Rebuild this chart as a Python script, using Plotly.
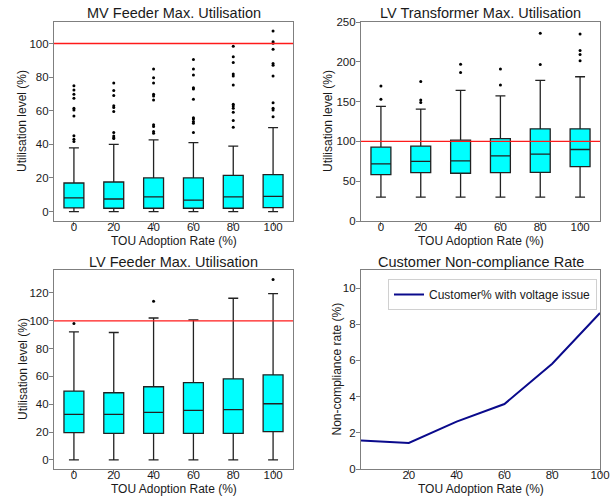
import plotly.graph_objects as go
from plotly.subplots import make_subplots

# ---------------- data ----------------
tou_rates = [0, 20, 40, 60, 80, 100]
tick_labels = ["0", "20", "40", "60", "80", "100"]

# MV feeder max utilisation (box statistics)
mv_q1 = [2.2, 2.0, 2.0, 2.0, 2.0, 2.4]
mv_median = [8.1, 7.5, 8.7, 6.8, 8.7, 9.0]
mv_q3 = [17.0, 17.6, 20.0, 20.0, 21.5, 22.0]
mv_low = [0, 0, 0, 0, 0, 0]
mv_high = [37.9, 40.0, 42.7, 41.0, 39.0, 50.0]
mv_outliers = [
    [74.9, 72.3, 69.8, 67.4, 61.5, 60.5, 56.9, 45.1, 43.1, 41.7],
    [76.5, 72.0, 69.0, 63.0, 62.0, 59.5, 47.0, 45.0, 44.0, 43.5],
    [84.8, 79.6, 76.5, 69.8, 68.8, 66.4, 51.6, 50.6, 47.6, 46.6],
    [90.5, 84.8, 81.2, 73.7, 72.9, 66.8, 55.9, 55.1, 53.6, 52.6, 47.0],
    [98.4, 92.1, 88.7, 81.8, 80.6, 75.3, 63.8, 62.8, 61.5, 59.1, 54.2, 50.2],
    [107.5, 101.0, 100.2, 96.6, 88.1, 87.0, 80.6, 64.8, 61.5, 60.5, 56.5],
]

# LV transformer max utilisation
tx_q1 = [58.3, 60.8, 60.0, 60.8, 61.2, 68.4]
tx_median = [71.7, 75.0, 75.5, 81.8, 83.9, 89.8]
tx_q3 = [92.7, 94.0, 101.5, 103.6, 115.8, 115.8]
tx_low = [30, 30, 30, 30, 30, 30]
tx_high = [143.9, 140.5, 164.0, 157.3, 176.6, 181.2]
tx_outliers = [
    [169.5, 153.0],
    [175.3, 152.0, 149.0],
    [197.0, 186.7],
    [191.0, 171.0],
    [236.0, 196.7],
    [234.9, 214.3, 209.3, 201.3],
]

# LV feeder max utilisation
lvf_q1 = [19.6, 19.1, 19.1, 19.1, 19.1, 20.3]
lvf_median = [32.8, 32.8, 34.2, 35.6, 36.1, 40.4]
lvf_q3 = [49.5, 48.3, 52.6, 55.5, 58.3, 61.2]
lvf_low = [0, 0, 0, 0, 0, 0]
lvf_high = [92.0, 91.6, 102.0, 100.6, 116.2, 119.5]
lvf_outliers = [[98.0], [], [114.0], [], [], [129.6]]

# Customer non-compliance rate
noncomp_rate = [1.58, 1.44, 2.62, 3.59, 5.82, 8.62]

# ---------------- figure ----------------
W, H = 616, 499
FONT = "Liberation Sans, Arial, sans-serif"
FRAME = "#7f7f7f"
TXT = "#1a1a1a"

fig = make_subplots(rows=2, cols=2)

def add_box(row, col, q1, med, q3, lo, hi, outl):
    fig.add_trace(go.Box(
        x=tou_rates, q1=q1, median=med, q3=q3,
        lowerfence=lo, upperfence=hi,
        width=10, whiskerwidth=0.5,
        fillcolor="#00FFFF",
        line=dict(color="#222222", width=1.3),
        boxpoints=False, showlegend=False,
    ), row=row, col=col)
    ox, oy = [], []
    for xv, vals in zip(tou_rates, outl):
        for v in vals:
            ox.append(xv)
            oy.append(v)
    fig.add_trace(go.Scatter(
        x=ox, y=oy, mode="markers",
        marker=dict(color="black", size=3),
        showlegend=False,
    ), row=row, col=col)

add_box(1, 1, mv_q1, mv_median, mv_q3, mv_low, mv_high, mv_outliers)
add_box(1, 2, tx_q1, tx_median, tx_q3, tx_low, tx_high, tx_outliers)
add_box(2, 1, lvf_q1, lvf_median, lvf_q3, lvf_low, lvf_high, lvf_outliers)

fig.add_trace(go.Scatter(
    x=tou_rates, y=noncomp_rate, mode="lines",
    line=dict(color="#0a0a8c", width=2),
    name="Customer% with voltage issue", showlegend=True,
), row=2, col=2)

# domains in pixels -> paper
def px_x(p):
    return p / W

def px_y(p):
    return 1 - p / H

col_dom = [[px_x(54), px_x(293)], [px_x(361), px_x(600)]]
row_dom = [[px_y(221), px_y(22)], [px_y(469), px_y(270)]]

axis_common = dict(
    showline=True, linecolor=FRAME, linewidth=1.2, mirror=True,
    ticks="outside", ticklen=4, tickcolor=FRAME, tickwidth=1,
    showgrid=False, zeroline=False, automargin=False,
    tickfont=dict(family=FONT, size=11.5, color=TXT),
)

for i, (r, c) in enumerate([(1, 1), (1, 2), (2, 1), (2, 2)], start=1):
    key = "xaxis" if i == 1 else f"xaxis{i}"
    ykey = "yaxis" if i == 1 else f"yaxis{i}"
    fig.layout[key].update(domain=col_dom[c - 1], ticklabelstandoff=-9, **axis_common)
    fig.layout[ykey].update(domain=row_dom[r - 1], ticklabelstandoff=-2, **axis_common)

for key in ["xaxis", "xaxis2", "xaxis3"]:
    fig.layout[key].update(range=[-10, 110], tickvals=tou_rates, ticktext=tick_labels)
fig.layout["xaxis4"].update(range=[0, 100], tickvals=[20, 40, 60, 80, 100])

fig.layout["yaxis"].update(range=[-5.6, 112.8], tickvals=[0, 20, 40, 60, 80, 100])
fig.layout["yaxis2"].update(range=[0, 250], tickvals=[0, 50, 100, 150, 200, 250])
fig.layout["yaxis3"].update(range=[-6.5, 136.5], tickvals=[0, 20, 40, 60, 80, 100, 120])
fig.layout["yaxis4"].update(range=[0, 11], tickvals=[0, 2, 4, 6, 8, 10])

# red 100% reference lines
for i in [1, 2, 3]:
    xr = "x" if i == 1 else f"x{i}"
    yr = "y" if i == 1 else f"y{i}"
    fig.add_shape(type="line", xref=f"{xr} domain", yref=yr,
                  x0=0, x1=1, y0=100, y1=100,
                  line=dict(color="#ff1a1a", width=1.3))

# titles and axis labels as annotations
titles = [
    ("MV Feeder Max. Utilisation", (54 + 293) / 2, 13.5),
    ("LV Transformer Max. Utilisation", (361 + 600) / 2, 13.5),
    ("LV Feeder Max. Utilisation", (54 + 293) / 2, 262),
    ("Customer Non-compliance Rate", (361 + 600) / 2, 262),
]
for text, xp, yp in titles:
    fig.add_annotation(text=text, x=px_x(xp), y=px_y(yp), xref="paper", yref="paper",
                       xanchor="center", yanchor="middle", showarrow=False,
                       font=dict(family=FONT, size=14.5, color=TXT))

xlabels = [((54 + 293) / 2, 241), ((361 + 600) / 2, 241),
           ((54 + 293) / 2, 489), ((361 + 600) / 2, 489)]
for xp, yp in xlabels:
    fig.add_annotation(text="TOU Adoption Rate (%)", x=px_x(xp), y=px_y(yp),
                       xref="paper", yref="paper", xanchor="center", yanchor="middle",
                       showarrow=False, font=dict(family=FONT, size=12, color=TXT))

ylabels = [
    ("Utilisation level (%)", 22.5, (22 + 221) / 2),
    ("Utilisation level (%)", 328.5, (22 + 221) / 2),
    ("Utilisation level (%)", 22.5, (270 + 469) / 2),
    ("Non-compliance rate (%)", 336, (270 + 469) / 2),
]
for text, xp, yp in ylabels:
    fig.add_annotation(text=text, x=px_x(xp), y=px_y(yp), xref="paper", yref="paper",
                       xanchor="center", yanchor="middle", textangle=-90,
                       showarrow=False, font=dict(family=FONT, size=12, color=TXT))

fig.update_layout(
    width=W, height=H,
    margin=dict(l=0, r=0, t=0, b=0, autoexpand=False),
    paper_bgcolor="white", plot_bgcolor="white",
    boxmode="overlay",
    font=dict(family=FONT, color=TXT),
    legend=dict(
        x=px_x(597), y=px_y(279), xanchor="right", yanchor="top",
        bgcolor="white", bordercolor="#d0d0d0", borderwidth=1,
        font=dict(family=FONT, size=12, color=TXT),
        itemwidth=30,
    ),
)

fig.write_html(
    "out.html",
    config={"displayModeBar": False},
    post_script=(
        "document.body.style.margin='0';"
        "document.body.style.padding='0';"
        "document.body.style.overflow='hidden';"
        "document.documentElement.style.overflow='hidden';"
    ),
)
